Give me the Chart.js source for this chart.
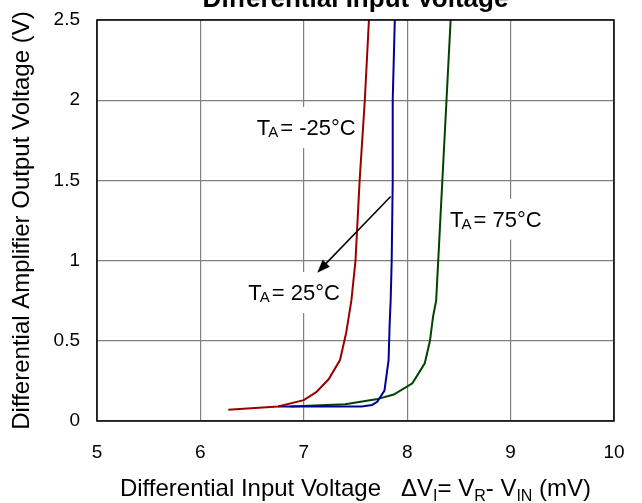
<!DOCTYPE html>
<html>
<head>
<meta charset="utf-8">
<script src="https://cdn.jsdelivr.net/npm/chart.js@4/dist/chart.umd.min.js"></script>
<style>
  html, body { margin: 0; padding: 0; background: #fff; }
  canvas { display: block; }
</style>
</head>
<body>
<canvas id="c" width="642" height="503"></canvas>
<script>
// curve data (mV, V)
const coldIn  = [6.27, 6.75, 7.0, 7.12, 7.24, 7.35, 7.41, 7.46, 7.5, 7.54, 7.59, 7.63];
const coldOut = [0.07, 0.09, 0.13, 0.18, 0.26, 0.38, 0.55, 0.75, 1.0, 1.5, 2.0, 2.5];

const roomIn  = [6.75, 7.56, 7.66, 7.71, 7.78, 7.82, 7.83, 7.84, 7.85, 7.86, 7.86, 7.88];
const roomOut = [0.09, 0.09, 0.10, 0.12, 0.19, 0.38, 0.6, 0.75, 1.0, 1.5, 2.0, 2.5];

const hotIn  = [6.87, 7.4, 7.7, 7.87, 8.05, 8.17, 8.22, 8.25, 8.28, 8.3, 8.34, 8.38, 8.42];
const hotOut = [0.09, 0.105, 0.135, 0.165, 0.235, 0.36, 0.5, 0.65, 0.75, 1.0, 1.5, 2.0, 2.5];

const xTicks = [5, 6, 7, 8, 9, 10];
const yTicks = [0, 0.5, 1, 1.5, 2, 2.5];

const seriesNames = ['-25°C', '25°C', '75°C'];

const FONT = "'Liberation Sans', Arial, sans-serif";

const toPts = (xs, ys) => xs.map((x, i) => ({ x: x, y: ys[i] }));

// T_A labels: [name, x, y] in data units (left / baseline)
const labelSpots = [
  ['-25°C', 6.545, 1.783],
  ['25°C', 6.463, 0.754],
  ['75°C', 8.414, 1.211]
];

function drawLabel(ctx, px, py, temp) {
  ctx.save();
  ctx.textBaseline = 'alphabetic';
  ctx.textAlign = 'left';
  ctx.font = '22px ' + FONT;
  const wT = ctx.measureText('T').width;
  ctx.font = '15px ' + FONT;
  const wA = ctx.measureText('A').width;
  ctx.font = '22px ' + FONT;
  const rest = '= ' + temp;
  const wR = ctx.measureText(rest).width;
  const total = wT - 2 + wA + 2 + wR;
  // white box that hides the grid under the text
  ctx.fillStyle = '#fff';
  ctx.fillRect(px - 8, py - 28, total + 12, 41);
  ctx.fillStyle = '#000';
  ctx.fillText('T', px, py);
  ctx.font = '15px ' + FONT;
  ctx.fillText('A', px + wT - 2, py + 2);
  ctx.font = '22px ' + FONT;
  ctx.fillText(rest, px + wT - 2 + wA + 2, py);
  ctx.restore();
}

const decor = {
  id: 'decor',
  beforeDatasetsDraw(chart) {
    const { ctx, scales: { x, y } } = chart;
    labelSpots.forEach(s => drawLabel(ctx, x.getPixelForValue(s[1]), y.getPixelForValue(s[2]), s[0]));
  },
  afterDatasetsDraw(chart) {
    const { ctx, chartArea: a, scales: { x, y } } = chart;
    ctx.save();
    // frame
    ctx.strokeStyle = '#000';
    ctx.lineWidth = 1.5;
    ctx.strokeRect(a.left, a.top, a.right - a.left, a.bottom - a.top);

    // arrow from the 25°C curve to its label
    const x0 = x.getPixelForValue(7.84), y0 = y.getPixelForValue(1.40);
    const x1 = x.getPixelForValue(7.13), y1 = y.getPixelForValue(0.925);
    const ang = Math.atan2(y1 - y0, x1 - x0);
    const hl = 13, hw = 5;
    ctx.lineWidth = 1.5;
    ctx.beginPath();
    ctx.moveTo(x0, y0);
    ctx.lineTo(x1 - Math.cos(ang) * hl * 0.8, y1 - Math.sin(ang) * hl * 0.8);
    ctx.stroke();
    ctx.fillStyle = '#000';
    ctx.beginPath();
    ctx.moveTo(x1, y1);
    ctx.lineTo(x1 - Math.cos(ang) * hl + Math.sin(ang) * hw, y1 - Math.sin(ang) * hl - Math.cos(ang) * hw);
    ctx.lineTo(x1 - Math.cos(ang) * hl - Math.sin(ang) * hw, y1 - Math.sin(ang) * hl + Math.cos(ang) * hw);
    ctx.closePath();
    ctx.fill();

    // title (top part clipped off in the original)
    const cx = (a.left + a.right) / 2;
    ctx.textAlign = 'center';
    ctx.textBaseline = 'alphabetic';
    ctx.font = 'bold 26px ' + FONT;
    ctx.fillText('Differential Input Voltage', cx, 7);

    // y axis title
    ctx.save();
    ctx.translate(22, (a.top + a.bottom) / 2);
    ctx.rotate(-Math.PI / 2);
    ctx.textBaseline = 'middle';
    ctx.font = '24px ' + FONT;
    ctx.fillText('Differential Amplifier Output Voltage (V)', 0, 0);
    ctx.restore();

    // x axis title with subscripts
    const parts = [
      ['Differential Input Voltage   ΔV', false],
      ['I', true],
      ['= V', false],
      ['R', true],
      ['- V', false],
      ['IN', true],
      [' (mV)', false]
    ];
    const big = '24px ' + FONT, small = '16px ' + FONT;
    let w = 0;
    parts.forEach(p => { ctx.font = p[1] ? small : big; w += ctx.measureText(p[0]).width; });
    let px = cx - w / 2;
    const base = 496;
    ctx.textAlign = 'left';
    parts.forEach(p => {
      ctx.font = p[1] ? small : big;
      ctx.fillText(p[0], px, p[1] ? base + 5 : base);
      px += ctx.measureText(p[0]).width;
    });
    ctx.restore();
  }
};

new Chart(document.getElementById('c'), {
  type: 'line',
  data: {
    datasets: [
      { label: seriesNames[0], data: toPts(coldIn, coldOut), borderColor: '#990000' },
      { label: seriesNames[1], data: toPts(roomIn, roomOut), borderColor: '#000099' },
      { label: seriesNames[2], data: toPts(hotIn, hotOut), borderColor: '#004400' }
    ]
  },
  options: {
    responsive: false,
    devicePixelRatio: 1,
    animation: false,
    layout: { padding: { top: 20, right: 28, left: 0, bottom: 0 } },
    elements: {
      point: { radius: 0 },
      line: { borderWidth: 2, tension: 0, fill: false }
    },
    plugins: {
      legend: { display: false },
      tooltip: { enabled: false },
      title: { display: false }
    },
    scales: {
      x: {
        type: 'linear',
        min: xTicks[0],
        max: xTicks[xTicks.length - 1],
        afterFit: s => { s.height = 82; s.paddingLeft = 0; s.paddingRight = 0; },
        afterBuildTicks: s => { s.ticks = xTicks.map(v => ({ value: v })); },
        ticks: { padding: 20, color: '#000', font: { family: FONT, size: 19 } },
        grid: { color: '#808080', lineWidth: 1.2, drawTicks: false },
        border: { display: false }
      },
      y: {
        type: 'linear',
        min: yTicks[0],
        max: yTicks[yTicks.length - 1],
        afterFit: s => { s.width = 97; s.paddingTop = 0; s.paddingBottom = 0; },
        afterBuildTicks: s => { s.ticks = yTicks.map(v => ({ value: v })); },
        ticks: { padding: 17, color: '#000', font: { family: FONT, size: 19 }, callback: v => String(v) },
        grid: { color: '#808080', lineWidth: 1.2, drawTicks: false },
        border: { display: false }
      }
    }
  },
  plugins: [decor]
});
</script>
</body>
</html>
